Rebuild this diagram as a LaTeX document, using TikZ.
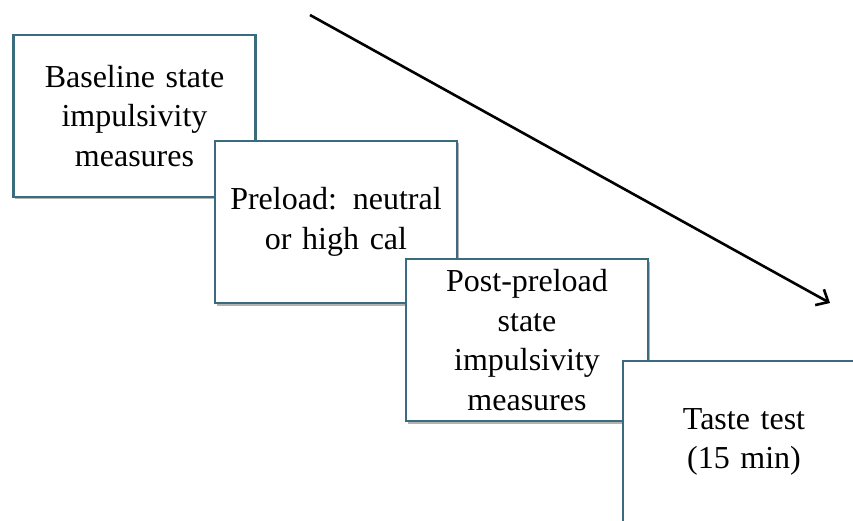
\documentclass[tikz,border=0pt]{standalone}
\usepackage{fontspec}
\setmainfont{Liberation Serif}
\usepackage{tikz}
\usetikzlibrary{arrows.meta,shadows}
\definecolor{boxline}{RGB}{58,108,128}
\tikzset{
	stagebox/.style={draw=boxline, line width=2.6pt, fill=white, rectangle,
		minimum width=242pt, minimum height=162pt, text width=234pt, align=center,
		font=\fontsize{32}{39.5}\selectfont,
		drop shadow={shadow xshift=1.5pt, shadow yshift=-2.5pt, opacity=0.3, fill=black}},
}

\begin{document}
\begin{tikzpicture}[x=1pt,y=-1pt]
		\clip (0,0) rectangle (853,521);
		\fill[white] (0,0) rectangle (853,521);
		%
		\coordinate (tstart) at (310,15);
		\coordinate (tend) at (830,303);
		\draw [line width=2.6pt, -{Straight Barb[length=10pt,width=18pt]}] (tstart) to (tend);
		%
		\node[stagebox] (baseline) at (134.5,116) {Baseline state\\impulsivity\\measures};
		\node[stagebox] (preload) at (336,222) {Preload: neutral\\or high cal};
		\node[stagebox] (postload) at (527,340) {Post-preload\\state\\impulsivity\\measures};
		\node[stagebox] (taste) at (744,442) {Taste test\\(15 min)};
	\end{tikzpicture}
\end{document}
